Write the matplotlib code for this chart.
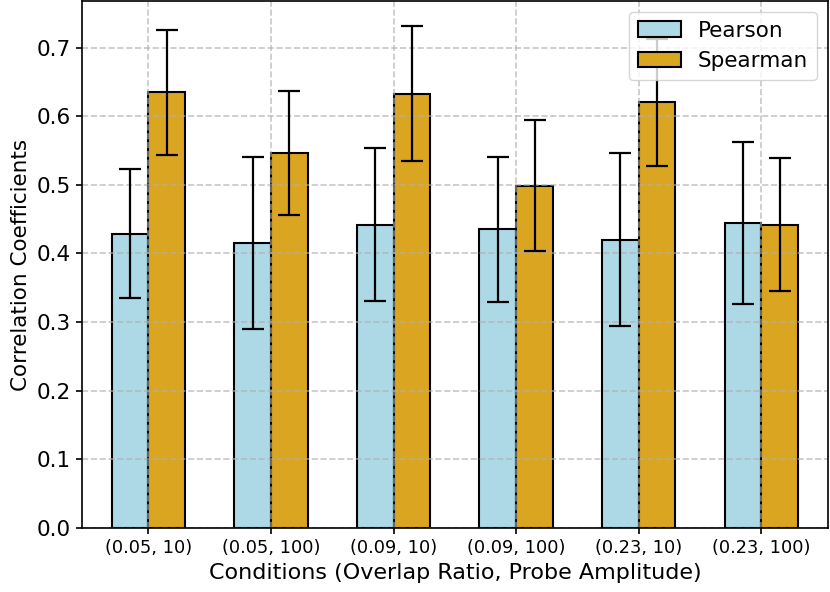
import numpy as np
import matplotlib
matplotlib.use("Agg")
import matplotlib.pyplot as plt

# --- DATA ---
conditions = ["(0.05, 10)", "(0.05, 100)", "(0.09, 10)",
              "(0.09, 100)", "(0.23, 10)", "(0.23, 100)"]
pearson_mean = [0.429, 0.415, 0.442, 0.435, 0.420, 0.444]
pearson_err = [0.094, 0.125, 0.111, 0.105, 0.126, 0.118]
spearman_mean = [0.635, 0.546, 0.633, 0.499, 0.620, 0.442]
spearman_err = [0.091, 0.090, 0.098, 0.095, 0.092, 0.097]

# --- PLOT ---
fig = plt.figure(figsize=(8.3, 5.92), dpi=100)
ax = fig.add_axes([0.099, 0.108, 0.898, 0.89])

x = np.arange(len(conditions))
width = 0.3
err_kw = dict(elinewidth=1.6, capthick=1.6)

ax.bar(x - width / 2, pearson_mean, width, yerr=pearson_err, capsize=8,
       color="lightblue", edgecolor="black", linewidth=1.5,
       error_kw=err_kw, label="Pearson")
ax.bar(x + width / 2, spearman_mean, width, yerr=spearman_err, capsize=8,
       color="goldenrod", edgecolor="black", linewidth=1.5,
       error_kw=err_kw, label="Spearman")

ax.set_xlim(-0.54, 5.54)
ax.set_xticks(x)
ax.set_xticklabels(conditions, fontsize=12.8)
ax.tick_params(axis="y", labelsize=15.5)
ax.tick_params(axis="both", width=1.2, length=4.5)
ax.set_xlabel("Conditions (Overlap Ratio, Probe Amplitude)", fontsize=16)
ax.set_ylabel("Correlation Coefficients", fontsize=15.5)
ax.grid(True, linestyle="--", linewidth=1.2, color="#b0b0b0", alpha=0.7)
for s in ax.spines.values():
    s.set_linewidth(1.2)
ax.legend(loc="upper right", fontsize=15.5)

fig.savefig("out.png", dpi=100)
